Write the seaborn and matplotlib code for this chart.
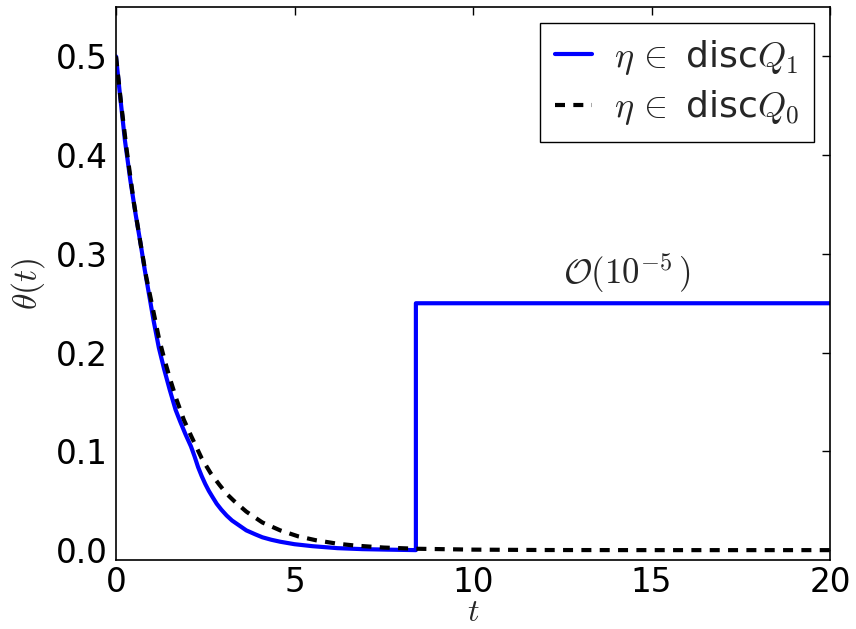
import matplotlib
matplotlib.use("Agg")
import matplotlib.pyplot as plt
import seaborn as sns
import pandas as pd

# theta(t) for the two discretisations
t_q1 = [0.0, 0.1, 0.25, 0.4, 0.55, 0.69, 0.8, 0.93, 1.05, 1.2, 1.35, 1.5,
        1.67, 1.8, 1.95, 2.1, 2.2, 2.3, 2.4, 2.5, 2.6, 2.7, 2.82, 2.95, 3.1,
        3.25, 3.45, 3.65, 3.9, 4.1, 4.35, 4.6, 5.0, 5.5, 6.2, 6.9, 7.6,
        8.4, 8.4, 20.0]
theta_q1 = [0.50, 0.465, 0.415, 0.375, 0.34, 0.31, 0.285, 0.258, 0.233,
            0.205, 0.183, 0.163, 0.142, 0.13, 0.117, 0.105, 0.095, 0.084,
            0.075, 0.067, 0.060, 0.054, 0.047, 0.041, 0.035, 0.030, 0.025,
            0.020, 0.016, 0.013, 0.0105, 0.0085, 0.006, 0.004, 0.002, 0.001,
            0.0005, 0.0, 0.25, 0.25]

t_q0 = [0.0, 0.15, 0.3, 0.5, 0.69, 0.85, 1.0, 1.2, 1.35, 1.5, 1.7, 1.9, 2.1,
        2.4, 2.65, 2.9, 3.1, 3.3, 3.65, 4.1, 4.6, 5.1, 5.6, 6.2, 6.7, 7.5,
        8.4, 10.0, 12.0, 15.0, 20.0]
theta_q0 = [0.50, 0.45, 0.405, 0.352, 0.31, 0.276, 0.25, 0.215, 0.194,
            0.175, 0.152, 0.132, 0.116, 0.093, 0.078, 0.066, 0.057, 0.050,
            0.039, 0.028, 0.020, 0.014, 0.010, 0.0065, 0.0046, 0.0026,
            0.0014, 0.0005, 0.0001, 0.0, 0.0]

labels = [r"$\eta\,\in$ disc$Q_1$", r"$\eta\,\in$ disc$Q_0$"]
x_ticks = [0, 5, 10, 15, 20]
y_ticks = [0.0, 0.1, 0.2, 0.3, 0.4, 0.5]
note = r"$\mathcal{O}(10^{-5}\,)$"

sns.set_style("white")
plt.rcParams["font.family"] = ["DejaVu Sans"]
plt.rcParams["mathtext.fontset"] = "cm"

fig = plt.figure(figsize=(8.56, 6.29), dpi=100)
ax = fig.add_axes([116 / 856, 1 - 560 / 629, (830 - 116) / 856, (560 - 7) / 629])

df1 = pd.DataFrame({"t": t_q1, "theta": theta_q1})
df0 = pd.DataFrame({"t": t_q0, "theta": theta_q0})

sns.lineplot(data=df1, x="t", y="theta", ax=ax, sort=False, estimator=None,
             color="#0000ff", linewidth=3, label=labels[0])
sns.lineplot(data=df0, x="t", y="theta", ax=ax, sort=False, estimator=None,
             color="black", linewidth=3, linestyle=(0, (2.4, 2.0)),
             label=labels[1])

ax.set_xlim(0, 20)
ax.set_ylim(-0.01, 0.55)
ax.set_xticks(x_ticks)
ax.set_xticklabels([str(v) for v in x_ticks])
ax.set_yticks(y_ticks)
ax.set_yticklabels([f"{v:.1f}" for v in y_ticks])

ax.tick_params(direction="in", length=6, width=1, top=True, right=True,
               labelsize=23.5, pad=6, colors="black")
ax.tick_params(axis="x", pad=4)
for sp in ax.spines.values():
    sp.set_visible(True)
    sp.set_color("black")
    sp.set_linewidth(1.2)

ax.set_xlabel(r"$t$", fontsize=23, labelpad=-1)
ax.set_ylabel(r"$\theta(t)$", fontsize=24, labelpad=6)

ax.text(14.3, 0.281, note, fontsize=25, ha="center", va="center")

leg = ax.legend(loc="upper right", fontsize=26, handlelength=1.05,
                handletextpad=0.6, fancybox=False, frameon=True,
                borderpad=0.4, labelspacing=0.32, borderaxespad=0.45)
leg.get_frame().set_edgecolor("black")
leg.get_frame().set_linewidth(1.0)
leg.get_frame().set_alpha(1.0)

fig.savefig("out.png", dpi=100)
